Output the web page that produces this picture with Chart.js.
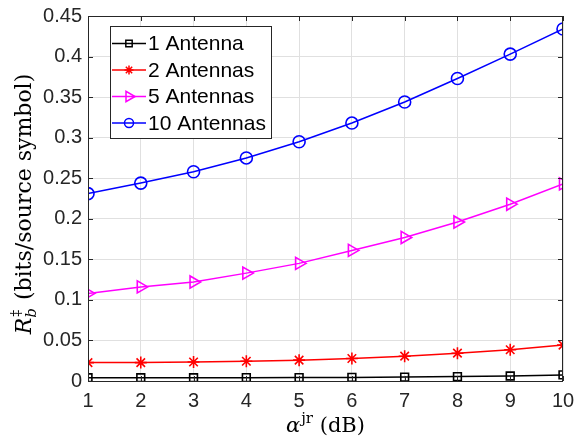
<!DOCTYPE html>
<html>
<head>
<meta charset="utf-8">
<script src="https://cdn.jsdelivr.net/npm/chart.js@4/dist/chart.umd.min.js"></script>
<style>
  html, body { margin: 0; padding: 0; background: #fff; }
  #wrap { width: 574px; height: 439px; }
</style>
</head>
<body>
<div id="wrap"><canvas id="myChart" width="574" height="439"></canvas></div>
<script>
// data
const alphaDb = [1, 2, 3, 4, 5, 6, 7, 8, 9, 10];
const ant1 = [0.004, 0.004, 0.004, 0.0041, 0.0042, 0.0044, 0.0048, 0.0054, 0.0062, 0.0075];
const ant2 = [0.0227, 0.0227, 0.0234, 0.0244, 0.0257, 0.0277, 0.0306, 0.0343, 0.0385, 0.0443];
const ant5 = [0.108, 0.116, 0.122, 0.133, 0.145, 0.161, 0.177, 0.196, 0.218, 0.243];
const ant10 = [0.231, 0.244, 0.258, 0.275, 0.295, 0.318, 0.344, 0.373, 0.403, 0.434];
const seriesLabels = ['1 Antenna', '2 Antennas', '5 Antennas', '10 Antennas'];
const yTickLabels = ['0', '0.05', '0.1', '0.15', '0.2', '0.25', '0.3', '0.35', '0.4', '0.45'];

const axisColor = '#262626';
const tickFont = { family: 'Liberation Sans, Arial, sans-serif', size: 20 };

const toPoints = (vals) => vals.map((v, i) => ({ x: alphaDb[i], y: v }));

const mkSet = (label, vals, color, style, radius, rotation) => ({
    label: label,
    data: toPoints(vals),
    borderColor: color,
    backgroundColor: color,
    borderWidth: 1.5,
    pointStyle: style,
    pointRadius: radius,
    pointHoverRadius: radius,
    pointRotation: rotation || 0,
    pointBorderColor: color,
    pointBackgroundColor: 'rgba(0,0,0,0)',
    pointBorderWidth: 1.6,
    tension: 0,
    fill: false
});

const datasets = [
    mkSet(seriesLabels[0], ant1, '#000000', 'rect', 5.5),
    mkSet(seriesLabels[1], ant2, '#ff0000', 'star', 6),
    mkSet(seriesLabels[2], ant5, '#ff00ff', 'triangle', 7, 90),
    mkSet(seriesLabels[3], ant10, '#0000ff', 'circle', 6)
];

// box + inward tick marks like matlab
const framePlugin = {
    id: 'frame',
    afterDatasetsDraw(chart) {
        const { ctx, chartArea: a, scales } = chart;
        ctx.save();
        ctx.strokeStyle = axisColor;
        ctx.lineWidth = 1;
        ctx.beginPath();
        ctx.rect(Math.round(a.left) + 0.5, Math.round(a.top) + 0.5,
                 Math.round(a.right - a.left) - 1, Math.round(a.bottom - a.top));
        ctx.stroke();
        const tl = 5;
        ctx.beginPath();
        scales.x.ticks.forEach(t => {
            const px = Math.round(scales.x.getPixelForValue(t.value)) + 0.5;
            ctx.moveTo(px, a.bottom); ctx.lineTo(px, a.bottom - tl);
            ctx.moveTo(px, a.top); ctx.lineTo(px, a.top + tl);
        });
        scales.y.ticks.forEach(t => {
            const py = Math.round(scales.y.getPixelForValue(t.value)) + 0.5;
            ctx.moveTo(a.left, py); ctx.lineTo(a.left + tl, py);
            ctx.moveTo(a.right, py); ctx.lineTo(a.right - tl, py);
        });
        ctx.stroke();
        ctx.restore();
    }
};

// legend with line through marker, drawn from the datasets
const legendPlugin = {
    id: 'matLegend',
    afterDraw(chart) {
        const { ctx, chartArea: a } = chart;
        const left = a.left + 22, top = a.top + 10, w = 161, h = 112;
        ctx.save();
        ctx.fillStyle = '#fff';
        ctx.fillRect(left, top, w, h);
        ctx.strokeStyle = axisColor;
        ctx.lineWidth = 1;
        ctx.strokeRect(left + 0.5, top + 0.5, w, h);
        chart.data.datasets.forEach((ds, i) => {
            const yy = top + 17.5 + i * 26.5;
            ctx.strokeStyle = ds.borderColor;
            ctx.lineWidth = 1.5;
            ctx.beginPath();
            ctx.moveTo(left + 2, yy);
            ctx.lineTo(left + 36, yy);
            ctx.stroke();
            ctx.fillStyle = 'rgba(0,0,0,0)';
            Chart.helpers.drawPoint(ctx, {
                pointStyle: ds.pointStyle,
                radius: ds.pointStyle === 'triangle' ? 6 : 4.5,
                rotation: ds.pointRotation,
                borderWidth: 1.5
            }, left + 19, yy);
            ctx.fillStyle = '#000';
            ctx.font = '21px Liberation Sans, Arial, sans-serif';
            ctx.textBaseline = 'middle';
            ctx.fillText(ds.label, left + 38, yy + 1);
        });
        ctx.restore();
    }
};

// latex-style axis titles
const titlePlugin = {
    id: 'axisTitles',
    afterDraw(chart) {
        const { ctx, chartArea: a } = chart;
        const serif = 'DejaVu Serif, Liberation Serif, serif';
        ctx.save();
        ctx.fillStyle = '#000';
        ctx.textBaseline = 'alphabetic';

        // x title: alpha^jr (dB)
        const xs = 21;
        ctx.font = 'italic ' + xs + 'px ' + serif;
        const wA = ctx.measureText('α').width;
        ctx.font = '15px ' + serif;
        const wSup = ctx.measureText('jr').width;
        ctx.font = xs + 'px ' + serif;
        const wRest = ctx.measureText(' (dB)').width;
        let x0 = (a.left + a.right) / 2 - (wA + wSup + 1 + wRest) / 2;
        const by = 432;
        ctx.font = 'italic ' + xs + 'px ' + serif;
        ctx.fillText('α', x0, by);
        ctx.font = '15px ' + serif;
        ctx.fillText('jr', x0 + wA + 1, by - 9);
        ctx.font = xs + 'px ' + serif;
        ctx.fillText(' (dB)', x0 + wA + wSup + 1, by);

        // y title: R_b^‡ (bits/source symbol)
        const ys = 22;
        ctx.translate(31, 204);
        ctx.rotate(-Math.PI / 2);
        ctx.font = 'italic ' + ys + 'px ' + serif;
        const wR = ctx.measureText('R').width;
        ctx.font = 'italic 15px ' + serif;
        const wb = ctx.measureText('b').width;
        ctx.font = '14px ' + serif;
        const wd = ctx.measureText('‡').width;
        const wSub = Math.max(wb, wd);
        ctx.font = ys + 'px ' + serif;
        const wT = ctx.measureText(' (bits/source symbol)').width;
        let s = -(wR + wSub + 1 + wT) / 2;
        ctx.font = 'italic ' + ys + 'px ' + serif;
        ctx.fillText('R', s, 0);
        ctx.font = 'italic 15px ' + serif;
        ctx.fillText('b', s + wR, 5);
        ctx.font = '14px ' + serif;
        ctx.fillText('‡', s + wR + 1, -10);
        ctx.font = ys + 'px ' + serif;
        ctx.fillText(' (bits/source symbol)', s + wR + wSub + 1, 0);
        ctx.restore();
    }
};

const config = {
    type: 'line',
    data: { datasets: datasets },
    options: {
        responsive: false,
        animation: false,
        events: [],
        layout: { padding: { top: 16, right: 11, left: 0, bottom: 0 } },
        plugins: {
            legend: { display: false },
            tooltip: { enabled: false },
            title: { display: false }
        },
        scales: {
            x: {
                type: 'linear',
                min: 1,
                max: 10,
                ticks: { stepSize: 1, color: axisColor, font: tickFont, padding: 8, maxRotation: 0 },
                grid: { color: '#e0e0e0', drawTicks: false },
                border: { display: false },
                afterFit: (s) => {
                    s.height = 58;
                    s.paddingLeft = 0;
                    s.paddingRight = 0;
                }
            },
            y: {
                min: 0,
                max: 0.45,
                ticks: {
                    stepSize: 0.05,
                    color: axisColor,
                    font: tickFont,
                    padding: 6,
                    callback: (v) => {
                        const i = Math.round(v / 0.05);
                        return yTickLabels[i] !== undefined ? yTickLabels[i] : '';
                    }
                },
                grid: { color: '#e0e0e0', drawTicks: false },
                border: { display: false },
                afterFit: (s) => {
                    s.width = 88;
                    s.paddingTop = 0;
                    s.paddingBottom = 0;
                }
            }
        }
    },
    plugins: [framePlugin, legendPlugin, titlePlugin]
};

const ctx = document.getElementById('myChart').getContext('2d');
const chartItem = Chart.getChart('myChart');
if (chartItem) chartItem.destroy();
const chart = new Chart(ctx, config);
</script>
</body>
</html>
